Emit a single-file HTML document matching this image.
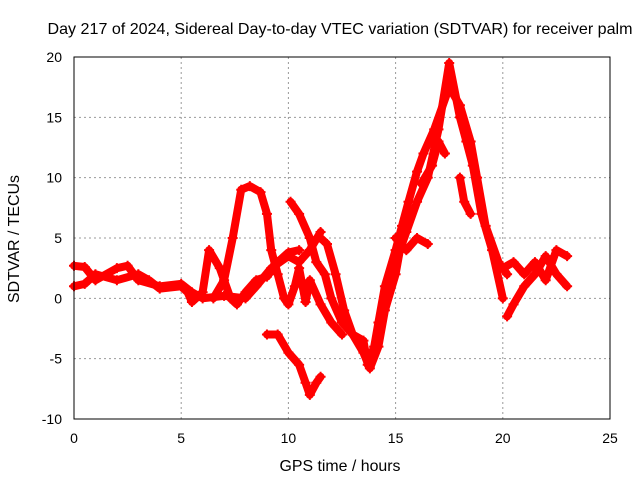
<!DOCTYPE html>
<html><head><meta charset="utf-8"><style>
html,body{margin:0;padding:0;background:#fff;}
svg{display:block;font-family:"Liberation Sans",sans-serif;}
</style></head><body>
<svg id="chart" width="640" height="480" viewBox="0 0 640 480">
<rect width="640" height="480" fill="#fff"/>
<text x="340" y="34" font-size="16" text-anchor="middle" textLength="585" lengthAdjust="spacingAndGlyphs">Day 217 of 2024, Sidereal Day-to-day VTEC variation (SDTVAR) for receiver palm</text>
<g id="grid"></g>
<g id="series"></g>
<rect x="74" y="57" width="536" height="362" fill="none" stroke="#000" stroke-width="1"/>
<g id="ticks"></g>
<text x="340" y="471" font-size="16" text-anchor="middle" textLength="121" lengthAdjust="spacingAndGlyphs">GPS time / hours</text>
<text transform="translate(19,239) rotate(-90)" font-size="16" text-anchor="middle" textLength="128" lengthAdjust="spacingAndGlyphs">SDTVAR / TECUs</text>
</svg>
<script>
const xTicks = [0,5,10,15,20,25];
const yTicks = [-10,-5,0,5,10,15,20];
const traceA = [[0,2.7],[0.5,2.6],[1,1.5],[2,2.5],[2.5,2.7],[3,1.5],[4,1],[5,1.2],[5.5,0.5],[6,0],[7,0.2],[8,0],[8.5,1],[9.2,2.5],[10,3.5],[10.5,3],[11,4],[11.5,5.5]];
const traceB = [[0,1],[0.5,1.2],[1,2],[2,1.5],[3,2],[3.5,1.5],[4,0.8],[5,1],[5.3,0.5],[5.5,-0.3],[6,0.5],[6.3,4],[6.8,2.5],[7.3,0],[7.6,-0.5],[8,0.5],[8.5,1.5],[9,1.8],[9.5,3],[10,3.8],[10.5,4]];
const traceC = [[6.5,0],[7,1.5],[7.4,5],[7.8,9],[8.2,9.3],[8.7,8.8],[9,7],[9.2,4],[9.5,2],[9.8,0],[10,-0.5],[10.3,1],[10.5,2.5],[10.8,-0.3],[11,1.5],[11.5,-0.5],[12,-2],[12.5,-3]];
const traceD = [[10.1,8],[10.5,7],[11,5],[11.3,3],[11.7,2],[12,0],[12.5,-2],[13,-3],[13.5,-4.5],[13.8,-5.8],[14.2,-4],[14.5,-1],[15,2],[15.2,4],[15.5,5.5],[16,8],[16.5,10],[17,14],[17.5,19.5],[18,15],[18.3,13],[18.6,11],[19,7],[19.5,4],[20,0]];
const traceE = [[11.5,5],[11.8,4.5],[12.2,2],[12.6,-1],[13,-3],[13.5,-3.5],[13.7,-5.5],[14,-4],[14.2,-2],[14.5,1],[15,4],[15.3,6],[15.6,8],[16,10.5],[16.3,12],[16.8,14],[17.5,17.5],[18,16],[18.5,13],[18.8,10],[19.2,6],[19.8,3],[20.2,2]];
const traceF = [[9,-3],[9.5,-3],[10,-4.5],[10.5,-5.5],[10.8,-7],[11,-8],[11.3,-7],[11.5,-6.5]];
const traceG = [[20,2.5],[20.5,3],[21,2],[21.5,3],[22,1.5],[22.5,4],[23,3.5]];
const traceH = [[20.2,-1.5],[20.5,-0.5],[21,1],[21.5,2],[22,3.5],[22.5,2],[23,1]];
const traceI = [[15,5],[15.5,4],[16,5],[16.5,4.5]];
const traceJ = [[16.2,9.5],[16.7,11],[17,13],[17.3,12]];
const traceK = [[18,10],[18.2,8],[18.5,7]];
const traces = [traceA,traceB,traceC,traceD,traceE,traceF,traceG,traceH,traceI,traceJ,traceK];
const NS='http://www.w3.org/2000/svg';
const X0=74,X1=610,Y0=419,Y1=57;
function xs(v){return X0+(v-0)/25*(X1-X0);}
function ys(v){return Y0-(v+10)/30*(Y0-Y1);}
const grid=document.getElementById('grid'),ticks=document.getElementById('ticks'),ser=document.getElementById('series');
function mk(tag,attrs,parent){const e=document.createElementNS(NS,tag);for(const k in attrs)e.setAttribute(k,attrs[k]);parent.appendChild(e);return e;}
xTicks.forEach(t=>{
  const x=xs(t);
  if(t>0&&t<25){const l=mk('line',{x1:x,y1:Y1,x2:x,y2:Y0,stroke:'#999','stroke-dasharray':'2,3'},grid);
  
  }
  const tx=mk('text',{x:x,y:443,'font-size':14,'text-anchor':'middle'},ticks);
  tx.textContent=t;
  
  
});
yTicks.forEach(t=>{
  const y=ys(t);
  if(t>-10&&t<20){const l=mk('line',{x1:X0,y1:y,x2:X1,y2:y,stroke:'#999','stroke-dasharray':'2,3'},grid);
  
  }
  const tx=mk('text',{x:62,y:y+5,'font-size':14,'text-anchor':'end'},ticks);
  tx.textContent=t;
  
  
});
traces.forEach((tr,i)=>{
  const pts=tr.map(p=>xs(p[0]).toFixed(1)+','+ys(p[1]).toFixed(1)).join(' ');
  const pl=mk('polyline',{points:pts,fill:'none',stroke:'#f00','stroke-width':8,'stroke-linejoin':'round','stroke-linecap':'round'},ser);
  
  
  tr.forEach(p=>{
    const x=xs(p[0]),y=ys(p[1]);
    const m=mk('path',{d:`M${x-5},${y}H${x+5}M${x},${y-5}V${y+5}`,stroke:'#f00','stroke-width':2},ser);
    
    
  });
});
</script>
</body></html>
